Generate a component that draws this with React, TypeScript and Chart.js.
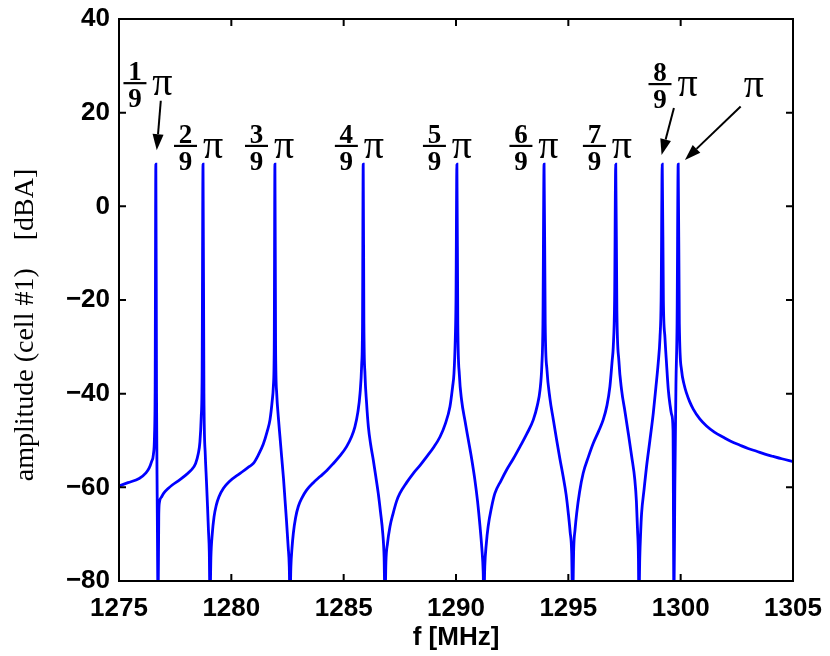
import React, { useEffect, useRef } from "react";
import { Chart, registerables } from "chart.js";

Chart.register(...registerables);

// ---- data ----
const freqMHz = [
  1275.0, 1275.4, 1275.9, 1276.2, 1276.34, 1276.45, 1276.53, 1276.58, 1276.61, 1276.64,
  1276.67, 1276.7, 1276.74, 1276.77, 1276.8, 1276.9, 1277.0, 1277.2, 1277.37, 1277.7,
  1277.97, 1278.2, 1278.41, 1278.53, 1278.6, 1278.66, 1278.7, 1278.74, 1278.78, 1278.84,
  1278.89, 1278.94, 1278.98, 1279.02, 1279.05, 1279.09, 1279.15, 1279.23, 1279.33, 1279.45,
  1279.65, 1279.9, 1280.39, 1280.79, 1280.98, 1281.2, 1281.42, 1281.6, 1281.72, 1281.82,
  1281.87, 1281.91, 1281.94, 1281.97, 1282.02, 1282.09, 1282.17, 1282.24, 1282.32, 1282.39,
  1282.46, 1282.53, 1282.58, 1282.61, 1282.65, 1282.7, 1282.76, 1282.86, 1282.98, 1283.15,
  1283.35, 1283.65, 1283.95, 1284.25, 1284.54, 1284.85, 1285.13, 1285.35, 1285.5, 1285.63,
  1285.73, 1285.8, 1285.84, 1285.87, 1285.9, 1285.95, 1286.02, 1286.1, 1286.2, 1286.32,
  1286.43, 1286.54, 1286.64, 1286.74, 1286.8, 1286.84, 1286.88, 1286.95, 1287.06, 1287.2,
  1287.36, 1287.5, 1287.8, 1288.1, 1288.4, 1288.69, 1289.0, 1289.29, 1289.52, 1289.73,
  1289.85, 1289.91, 1289.97, 1290.0, 1290.04, 1290.08, 1290.15, 1290.25, 1290.4, 1290.55,
  1290.7, 1290.84, 1290.96, 1291.07, 1291.15, 1291.21, 1291.24, 1291.28, 1291.35, 1291.43,
  1291.58, 1291.73, 1292.0, 1292.25, 1292.55, 1292.85, 1293.15, 1293.44, 1293.62, 1293.74,
  1293.82, 1293.87, 1293.92, 1293.97, 1294.05, 1294.18, 1294.33, 1294.48, 1294.62, 1294.77,
  1294.9, 1295.0, 1295.08, 1295.15, 1295.19, 1295.24, 1295.3, 1295.37, 1295.5, 1295.66,
  1295.9, 1296.11, 1296.35, 1296.55, 1296.72, 1296.85, 1296.95, 1297.0, 1297.06, 1297.11,
  1297.16, 1297.25, 1297.37, 1297.52, 1297.67, 1297.82, 1297.96, 1298.03, 1298.08, 1298.12,
  1298.14, 1298.18, 1298.22, 1298.26, 1298.37, 1298.48, 1298.63, 1298.78, 1298.9, 1299.0,
  1299.08, 1299.13, 1299.18, 1299.23, 1299.3, 1299.37, 1299.45, 1299.53, 1299.6, 1299.66,
  1299.7, 1299.74, 1299.79, 1299.84, 1299.89, 1299.94, 1300.04, 1300.15, 1300.26, 1300.4,
  1300.56, 1300.85, 1301.15, 1301.5, 1301.9, 1302.25, 1302.64, 1303.0, 1303.38, 1303.75,
  1304.12, 1304.5, 1305.0,
];
const amplitudeDb = [
  -59.7, -59.0, -58.1, -56.9, -55.9, -54.5, -53.0, -49, -38, 9,
  -40, -62, -85, -66, -63.2, -62.0, -61.2, -60.2, -59.5, -58.4,
  -57.4, -56.4, -54.9, -52.8, -50.4, -45, -36, 9, -40, -53,
  -58.4, -64, -69, -74, -85, -75, -70, -66.3, -63.8, -62.0,
  -60.2, -58.8, -57.0, -55.6, -54.9, -53.1, -50.8, -48.0, -45.6, -41.5,
  -38.5, -30, 9, -30, -40, -44.9, -49.5, -53.5, -58, -62.7,
  -67.5, -72.7, -77, -85, -77, -73, -69.8, -66.5, -64.1, -62.2,
  -60.6, -59.0, -57.7, -56.4, -54.9, -53.2, -51.3, -49.2, -47.1, -44,
  -39.9, -34, -25, 9, -25, -36, -42, -47.1, -50.8, -54.2,
  -57.7, -61.3, -65.3, -69.8, -75, -85, -76, -72, -68.4, -65.6,
  -62.9, -61.3, -59.0, -57.0, -55.3, -53.5, -51.5, -49.2, -46.5, -42.8,
  -38.5, -35.7, -28, -20, 9, -25, -36, -41.4, -45.8, -49.9,
  -54, -58.4, -63, -68.4, -73, -78, -85, -77, -72, -68.4,
  -64.3, -61.3, -58.6, -56.3, -53.9, -51.3, -48.6, -45.6, -42.5, -39.2,
  -34, -25, 9, -25, -35, -41, -45.5, -49.9, -53.8, -57.7,
  -61.5, -65.6, -69.5, -74.1, -85, -73, -69, -65.6, -61, -57,
  -53.4, -50.6, -48, -45.6, -42.5, -38.5, -33, -30, -20, 9,
  -22, -33, -39.2, -43.8, -48.5, -53.4, -58.4, -63, -69.1, -75,
  -85, -75, -69.5, -65.6, -60.5, -55.6, -50, -44.2, -38.5, -33.5,
  -28, -20, 9, -20, -28, -33.5, -39.2, -42.5, -44.5, -47.8,
  -85, -60, -38, -25, 9, -25, -35, -38.0, -39.9, -41.7,
  -43.3, -45.4, -46.9, -48.2, -49.3, -50.2, -51.0, -51.7, -52.3, -52.9,
  -53.4, -53.9, -54.5,
];

const xMin = 1275;
const xMax = 1305;
const xStep = 5;
const yMin = -80;
const yMax = 40;
const yStep = 20;

// annotations (data coordinates)
const fractionNumerators = ["1", "2", "3", "4", "5", "6", "7", "8"];
const fractionDenominator = "9";
const fractionX = [1275.71, 1277.96, 1281.12, 1285.12, 1289.04, 1292.89, 1296.16, 1299.08];
const fractionY = [26.3, 12.9, 12.9, 12.9, 12.9, 12.9, 12.9, 26.1];
const piLabelX = 1303.26;
const piLabelY = 25.3;
const arrowFromX = [1276.86, 1299.7, 1302.67];
const arrowFromY = [22.55, 21.0, 21.3];
const arrowToX = [1276.68, 1299.15, 1300.19];
const arrowToY = [12.0, 10.95, 9.9];

const xTitle = "f [MHz]";
const yTitle = "amplitude (cell #1)    [dBA]";

const SANS = '"Liberation Sans", Arial, sans-serif';
const SERIF = '"Liberation Serif", "Times New Roman", serif';

export default function App() {
  const ref = useRef<HTMLCanvasElement>(null);

  useEffect(() => {
    const canvas = ref.current;
    if (!canvas) return;
    const points = freqMHz.map((f, i) => ({ x: f, y: amplitudeDb[i] }));

    const framePlugin = {
      id: "frameAndNotes",
      afterDraw(chart: any) {
        const { ctx, chartArea: a, scales } = chart;
        const xs = scales.x;
        const ys = scales.y;
        ctx.save();
        ctx.strokeStyle = "#000";
        ctx.fillStyle = "#000";
        ctx.lineWidth = 2;
        ctx.strokeRect(a.left, a.top, a.right - a.left, a.bottom - a.top);
        ctx.beginPath();
        const tl = 7;
        xs.ticks.forEach((t: any) => {
          const px = xs.getPixelForValue(t.value);
          ctx.moveTo(px, a.bottom);
          ctx.lineTo(px, a.bottom - tl);
          ctx.moveTo(px, a.top);
          ctx.lineTo(px, a.top + tl);
        });
        ys.ticks.forEach((t: any) => {
          const py = ys.getPixelForValue(t.value);
          ctx.moveTo(a.left, py);
          ctx.lineTo(a.left + tl, py);
          ctx.moveTo(a.right, py);
          ctx.lineTo(a.right - tl, py);
        });
        ctx.stroke();

        // y title
        ctx.save();
        ctx.font = `28px ${SERIF}`;
        ctx.textAlign = "center";
        ctx.textBaseline = "middle";
        ctx.translate(26, (a.top + a.bottom) / 2 + 25);
        ctx.rotate(-Math.PI / 2);
        ctx.fillText(yTitle, 0, 0);
        ctx.restore();

        // fractions
        fractionNumerators.forEach((num, i) => {
          const cx = xs.getPixelForValue(fractionX[i]);
          const cy = ys.getPixelForValue(fractionY[i]);
          ctx.lineWidth = 2.2;
          ctx.beginPath();
          ctx.moveTo(cx - 11.5, cy);
          ctx.lineTo(cx + 11.5, cy);
          ctx.stroke();
          ctx.font = `bold 27px ${SERIF}`;
          ctx.textAlign = "center";
          ctx.textBaseline = "alphabetic";
          ctx.fillText(num, cx, cy - 3);
          ctx.fillText(fractionDenominator, cx, cy + 24);
          ctx.font = `40px ${SERIF}`;
          ctx.fillText("\u03c0", cx + 27.5, cy + 12);
        });
        {
          const cx = xs.getPixelForValue(piLabelX);
          const cy = ys.getPixelForValue(piLabelY);
          ctx.font = `40px ${SERIF}`;
          ctx.textAlign = "center";
          ctx.textBaseline = "alphabetic";
          ctx.fillText("\u03c0", cx, cy + 9.5);
        }
        // arrows
        arrowFromX.forEach((fx, i) => {
          const x0 = xs.getPixelForValue(fx);
          const y0 = ys.getPixelForValue(arrowFromY[i]);
          const x1 = xs.getPixelForValue(arrowToX[i]);
          const y1 = ys.getPixelForValue(arrowToY[i]);
          const ang = Math.atan2(y1 - y0, x1 - x0);
          const hl = 16;
          const hw = 5.5;
          const bx = x1 - hl * Math.cos(ang);
          const by = y1 - hl * Math.sin(ang);
          ctx.lineWidth = 2;
          ctx.beginPath();
          ctx.moveTo(x0, y0);
          ctx.lineTo(bx, by);
          ctx.stroke();
          ctx.beginPath();
          ctx.moveTo(x1, y1);
          ctx.lineTo(bx + hw * Math.sin(ang), by - hw * Math.cos(ang));
          ctx.lineTo(bx - hw * Math.sin(ang), by + hw * Math.cos(ang));
          ctx.closePath();
          ctx.fill();
        });
        ctx.restore();
      },
    };

    const chart = new Chart(canvas, {
      type: "line",
      data: {
        datasets: [
          {
            data: points,
            borderColor: "#0000ff",
            borderWidth: 2.8,
            pointRadius: 0,
            fill: false,
            cubicInterpolationMode: "monotone",
            clip: 0,
          } as any,
        ],
      },
      options: {
        responsive: false,
        animation: false,
        layout: { padding: { left: 0, top: 19, right: 37, bottom: 0 } },
        plugins: { legend: { display: false }, tooltip: { enabled: false } },
        scales: {
          x: {
            type: "linear",
            min: xMin,
            max: xMax,
            grid: { display: false, drawTicks: false },
            border: { display: false },
            ticks: {
              stepSize: xStep,
              padding: 12,
              color: "#000",
              font: { family: SANS, size: 26, weight: "bold" },
              callback: (v: any) => String(v),
              maxRotation: 0,
            },
            title: {
              display: true,
              text: xTitle,
              color: "#000",
              font: { family: SANS, size: 26, weight: "bold" },
              padding: { top: 0, bottom: 3 },
            },
            afterFit: (s: any) => {
              s.height = 75;
              s.paddingLeft = 0;
              s.paddingRight = 0;
              s.paddingTop = 0;
              s.paddingBottom = 0;
            },
          },
          y: {
            type: "linear",
            min: yMin,
            max: yMax,
            grid: { display: false, drawTicks: false },
            border: { display: false },
            ticks: {
              stepSize: yStep,
              padding: 9,
              color: "#000",
              font: { family: SANS, size: 26, weight: "bold" },
              callback: (v: any) => String(v).replace("-", "\u2212"),
            },
            afterFit: (s: any) => {
              s.width = 119;
              s.paddingLeft = 0;
              s.paddingRight = 0;
              s.paddingTop = 0;
              s.paddingBottom = 0;
            },
          },
        },
      },
      plugins: [framePlugin],
    });
    return () => chart.destroy();
  }, []);

  return (
    <div style={{ position: "absolute", left: 0, top: 0, width: 830, height: 656, background: "#fff" }}>
      <canvas ref={ref} width={830} height={656} style={{ display: "block" }} />
    </div>
  );
}
